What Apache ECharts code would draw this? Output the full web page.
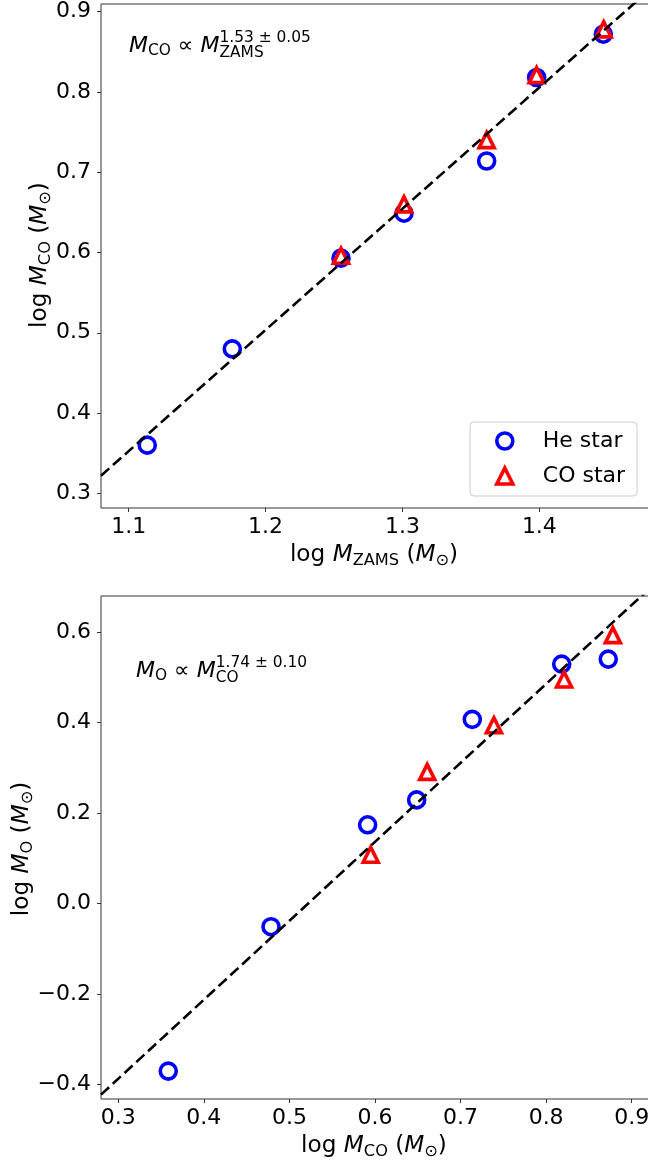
<!DOCTYPE html>
<html>
<head>
<meta charset="utf-8">
<script src="https://cdn.jsdelivr.net/npm/echarts@6/dist/echarts.min.js"></script>
<style>
  html, body { margin: 0; padding: 0; background: #ffffff; }
  #chart { width: 648px; height: 1165px; }
</style>
</head>
<body>
<div id="chart"></div>
<script>
// ---- Upper panel: log M_ZAMS vs log M_CO ----
const zamsHe = [1.1136, 1.1757, 1.2551, 1.3011, 1.3615, 1.3980, 1.4467];
const mcoHe  = [0.360, 0.480, 0.593, 0.649, 0.714, 0.818, 0.872];
const zamsCO = [1.2551, 1.3011, 1.3615, 1.3980, 1.4470];
const mcoCO  = [0.596, 0.660, 0.740, 0.821, 0.878];
// power-law fit, slope ~1.53 (end points of the dashed line)
const fitUpperX = [1.0798, 1.4830];
const fitUpperY = [0.322, 0.931];

// ---- Lower panel: log M_CO vs log M_O ----
const mcoHe2 = [0.3584, 0.4785, 0.5914, 0.6487, 0.7137, 0.8182, 0.8726];
const moHe   = [-0.370, -0.051, 0.174, 0.229, 0.407, 0.529, 0.540];
const mcoCO2 = [0.595, 0.661, 0.739, 0.821, 0.878];
const moCO   = [0.108, 0.291, 0.394, 0.495, 0.593];
// power-law fit, slope ~1.74
const fitLowerX = [0.2798, 0.9249];
const fitLowerY = [-0.422, 0.703];

// tick labels
const upperXTicks = [1.1, 1.2, 1.3, 1.4];
const upperYTicks = [0.3, 0.4, 0.5, 0.6, 0.7, 0.8, 0.9];
const lowerXTicks = [0.3, 0.4, 0.5, 0.6, 0.7, 0.8, 0.9];
const lowerYTicks = [-0.4, -0.2, 0.0, 0.2, 0.4, 0.6];

const seriesNames = ['He star', 'CO star'];

const FONT = '"DejaVu Sans"';
const BLUE = '#0000ff';
const RED = '#ff0000';
const SPINE = '#333333';

const zip = (xs, ys) => xs.map((x, i) => [x, ys[i]]);
const fmt = v => v.toFixed(1).replace('-', '\u2212');

// ---- text with sub/superscripts, laid out piece by piece ----
const measureCtx = document.createElement('canvas').getContext('2d');
function fontStr(size, italic) {
  return (italic ? 'italic ' : '') + size + 'px ' + FONT;
}
function textWidth(t, size, italic) {
  measureCtx.font = fontStr(size, italic);
  return measureCtx.measureText(t).width;
}
// distance from the 'middle' text baseline down to the alphabetic baseline
function midToBase(size) {
  measureCtx.font = fontStr(size, false);
  measureCtx.textBaseline = 'middle';
  const m = measureCtx.measureText('H');
  measureCtx.textBaseline = 'alphabetic';
  return m.actualBoundingBoxDescent;
}
// parts: {t, s (font size), it (italic), dy (baseline shift), stack (next part shares x)}
function mathText(parts, x, y, rotation, anchor) {
  let cx = 0, stackStart = null, stackMax = 0;
  const kids = [];
  parts.forEach(p => {
    const w = textWidth(p.t, p.s, p.it);
    const startX = stackStart !== null ? stackStart : cx;
    kids.push({
      type: 'text',
      x: startX,
      y: (p.dy || 0) - midToBase(p.s),
      style: {
        text: p.t, font: fontStr(p.s, p.it), fill: '#000000',
        align: 'left', verticalAlign: 'middle'
      }
    });
    if (p.stack) {
      stackStart = startX; stackMax = Math.max(stackMax, w);
    } else if (stackStart !== null) {
      cx = stackStart + Math.max(stackMax, w);
      stackStart = null; stackMax = 0;
    } else {
      cx = startX + w;
    }
  });
  const total = cx;
  const shift = anchor === 'center' ? -total / 2 : 0;
  kids.forEach(k => { k.x += shift; });
  return { type: 'group', x: x, y: y, rotation: rotation || 0, silent: true, children: kids, z: 50 };
}

const BIG = 22, SMALL = 15.4;
const TITLE = 23.2, TITLE_SUB = 16.2;

function axisTitle(sub, x, y, rotation) {
  return mathText([
    { t: 'log ', s: TITLE },
    { t: 'M', s: TITLE, it: true },
    { t: sub, s: TITLE_SUB, dy: 3.6 },
    { t: ' (', s: TITLE },
    { t: 'M', s: TITLE, it: true },
    { t: '\u2299', s: TITLE_SUB, dy: 3.6 },
    { t: ')', s: TITLE }
  ], x, y, rotation, 'center');
}

const graphics = [
  // M_CO ∝ M_ZAMS^{1.53 ± 0.05}
  mathText([
    { t: 'M', s: BIG, it: true },
    { t: 'CO', s: SMALL, dy: 3.5 },
    { t: ' \u221D ', s: BIG },
    { t: 'M', s: BIG, it: true },
    { t: 'ZAMS', s: SMALL, dy: 5, stack: true },
    { t: '1.53 \u00B1 0.05', s: SMALL, dy: -9.5 }
  ], 129, 51.7, 0, 'left'),
  // M_O ∝ M_CO^{1.74 ± 0.10}
  mathText([
    { t: 'M', s: BIG, it: true },
    { t: 'O', s: SMALL, dy: 3.5 },
    { t: ' \u221D ', s: BIG },
    { t: 'M', s: BIG, it: true },
    { t: 'CO', s: SMALL, dy: 5, stack: true },
    { t: '1.74 \u00B1 0.10', s: SMALL, dy: -9.5 }
  ], 136, 676.7, 0, 'left'),
  // axis titles
  axisTitle('ZAMS', 374, 561, 0),
  axisTitle('CO', 374, 1152, 0),
  axisTitle('CO', 46, 255, Math.PI / 2),
  axisTitle('O', 28, 849, Math.PI / 2)
];

function valueAxis(grid, min, max, ticks, isX) {
  return {
    type: 'value', gridIndex: grid, min: min, max: max,
    splitLine: { show: false },
    axisLine: { show: false, onZero: false },
    axisTick: { show: true, length: 4, inside: false, customValues: ticks,
                lineStyle: { color: SPINE, width: 1 } },
    axisLabel: { show: true, customValues: ticks, formatter: fmt,
                 fontSize: BIG, fontFamily: FONT, color: '#000000',
                 margin: isX ? 8 : 10, hideOverlap: false }
  };
}

function scatter(name, xi, yi, data, isCircle) {
  return {
    name: name, type: 'scatter', xAxisIndex: xi, yAxisIndex: yi,
    data: data,
    symbol: isCircle ? 'circle' : 'triangle',
    symbolSize: isCircle ? 16 : [15, 15],
    itemStyle: { color: '#ffffff', borderColor: isCircle ? BLUE : RED,
                 borderWidth: 3.6, opacity: 1 },
    z: isCircle ? 3 : 4, silent: true
  };
}
function fitLine(xi, yi, xs, ys) {
  return {
    type: 'line', xAxisIndex: xi, yAxisIndex: yi,
    data: zip(xs, ys), symbol: 'none', clip: true, silent: true,
    lineStyle: { color: '#000000', width: 2.6, type: [11, 5] },
    z: 5
  };
}

const option = {
  animation: false,
  backgroundColor: '#ffffff',
  textStyle: { fontFamily: FONT },
  grid: [
    { left: 101, top: 4, width: 552, height: 504, show: true,
      borderColor: SPINE, borderWidth: 1, backgroundColor: 'transparent',
      containLabel: false, outerBoundsMode: 'none' },
    { left: 101, top: 596, width: 552, height: 503, show: true,
      borderColor: SPINE, borderWidth: 1, backgroundColor: 'transparent',
      containLabel: false, outerBoundsMode: 'none' }
  ],
  xAxis: [
    valueAxis(0, 1.0798, 1.4830, upperXTicks, true),
    valueAxis(1, 0.2798, 0.9249, lowerXTicks, true)
  ],
  yAxis: [
    valueAxis(0, 0.2817, 0.9096, upperYTicks, false),
    valueAxis(1, -0.4316, 0.6794, lowerYTicks, false)
  ],
  legend: {
    data: seriesNames,
    orient: 'vertical',
    left: 470, top: 422,
    padding: [7, 12, 8, 25],
    itemGap: 11,
    itemWidth: 16, itemHeight: 16,
    itemStyle: { borderWidth: 3.6 },
    backgroundColor: 'rgba(255,255,255,0.8)',
    borderColor: '#cccccc', borderWidth: 1, borderRadius: 4,
    selectedMode: false,
    textStyle: { fontSize: BIG, fontFamily: FONT, color: '#000000',
                 lineHeight: 24, padding: [0, 0, 0, 25] },
    z: 20
  },
  series: [
    scatter(seriesNames[0], 0, 0, zip(zamsHe, mcoHe), true),
    scatter(seriesNames[1], 0, 0, zip(zamsCO, mcoCO), false),
    fitLine(0, 0, fitUpperX, fitUpperY),
    scatter(seriesNames[0], 1, 1, zip(mcoHe2, moHe), true),
    scatter(seriesNames[1], 1, 1, zip(mcoCO2, moCO), false),
    fitLine(1, 1, fitLowerX, fitLowerY)
  ],
  graphic: graphics
};

const chart = echarts.init(document.getElementById('chart'), null, { renderer: 'canvas' });
chart.setOption(option);
</script>
</body>
</html>
